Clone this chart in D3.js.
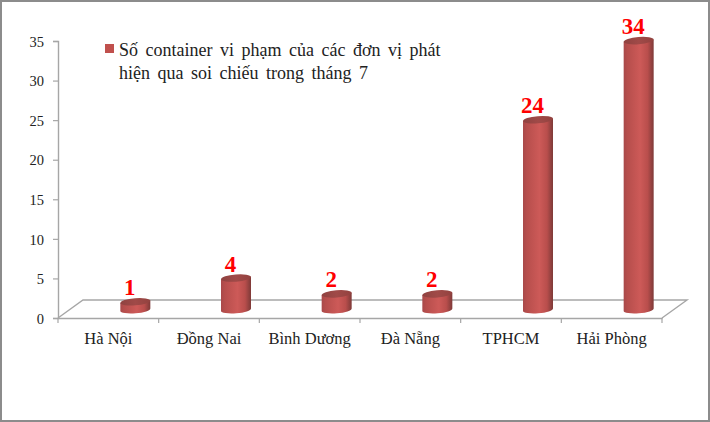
<!DOCTYPE html>
<html><head><meta charset="utf-8">
<script src="https://cdn.jsdelivr.net/npm/d3@7/dist/d3.min.js"></script>
<style>html,body{margin:0;padding:0;background:#fff}svg{display:block}text{font-family:"Liberation Serif",serif}</style>
</head><body><div id="c"></div>
<script>
const categories = ["Hà Nội","Đồng Nai","Bình Dương","Đà Nẵng","TPHCM","Hải Phòng"];
const values = [1,4,2,2,24,34];
const yTicks = [0,5,10,15,20,25,30,35];
const legendLines = ["Số container vi phạm của các đơn vị phát","hiện qua soi chiếu trong tháng 7"];

const W=710,H=422;
const svg=d3.select("#c").append("svg").attr("width",W).attr("height",H);
const defs=svg.append("defs");
const g=defs.append("linearGradient").attr("id","body").attr("x1",0).attr("x2",1).attr("y1",0).attr("y2",0);
[[0,"#a8494a"],[0.12,"#b64e4c"],[0.55,"#cd5a58"],[0.8,"#b94e4c"],[0.95,"#8c3f3d"],[1,"#7f3a38"]].forEach(d=>g.append("stop").attr("offset",d[0]).attr("stop-color",d[1]));
const gt=defs.append("linearGradient").attr("id","top").attr("x1",0).attr("x2",1).attr("y1",0).attr("y2",0);
[[0,"#8f4240"],[0.5,"#a04a48"],[1,"#93423f"]].forEach(d=>gt.append("stop").attr("offset",d[0]).attr("stop-color",d[1]));

svg.append("rect").attr("x",1).attr("y",1).attr("width",W-2).attr("height",H-2).attr("fill","#fff").attr("stroke","#8c8c8c").attr("stroke-width",2);

const x=d3.scaleBand().domain(categories).range([58,662]);
const y=d3.scaleLinear().domain([0,35]).range([318,41]);
const dx=25,dy=-18,axisCol="#a6a6a6";

const floor=svg.append("g").attr("fill","none").attr("stroke",axisCol).attr("stroke-width",1.4);
floor.append("path").attr("d",d3.line()([[x.range()[0],y(0)],[x.range()[0]+dx,y(0)+dy],[x.range()[1]+dx,y(0)+dy],[x.range()[1],y(0)]]));

const ax=svg.append("g").attr("transform",`translate(58,0)`).call(d3.axisLeft(y).tickValues(yTicks).tickSize(5).tickPadding(9));
ax.select(".domain").attr("stroke",axisCol).attr("stroke-width",1.4);
ax.selectAll(".tick line").attr("stroke",axisCol).attr("stroke-width",1.2);
ax.selectAll("text").attr("font-size",14.5).attr("fill","#222").attr("font-family","Liberation Serif").attr("dy","0.36em");

const bx=svg.append("g").attr("transform",`translate(0,${y(0)})`).call(d3.axisBottom(x).tickSize(0).tickPadding(14));
bx.select(".domain").attr("stroke",axisCol).attr("stroke-width",1.6);
bx.selectAll("text").attr("font-size",16.5).attr("fill","#222").attr("font-family","Liberation Serif");
bx.selectAll(".edge").data(d3.range(7)).enter().append("line").attr("class","edge")
  .attr("x1",i=>58+i*x.step()).attr("x2",i=>58+i*x.step()).attr("y1",0).attr("y2",5).attr("stroke",axisCol).attr("stroke-width",1.2);

const rx=15,ry=3.6,baseOffset=-8.3,tilt=-4.6,barShift=27,labelShift=-5.5;
const lift=rx*Math.sin(-tilt*Math.PI/180);
const bars=svg.append("g").selectAll("g").data(categories.map((c,i)=>({c,v:values[i]}))).enter().append("g")
  .attr("transform",d=>`translate(${x(d.c)+x.bandwidth()/2+barShift},0)`);
bars.append("path").attr("fill","url(#body)").attr("d",d=>{
  const b=y(0)+baseOffset,t=y(d.v)+baseOffset;
  return `M${-rx},${t+lift}L${-rx},${b+lift}A${rx},${ry} ${tilt} 0 0 ${rx},${b-lift}L${rx},${t-lift}Z`;
});
bars.append("ellipse").attr("transform",d=>`translate(0,${y(d.v)+baseOffset}) rotate(${tilt})`).attr("rx",rx).attr("ry",ry).attr("fill","url(#top)");
bars.append("text").attr("text-anchor","middle").attr("x",labelShift).attr("y",d=>y(d.v)+baseOffset-6.5)
  .attr("font-size",23).attr("font-weight","bold").attr("fill","#ff0000").text(d=>d.v);

svg.append("rect").attr("x",105).attr("y",44).attr("width",9).attr("height",9).attr("fill","#c0504d");
const lg=svg.append("g").attr("font-size",18).attr("fill","#222").style("word-spacing","3px");
legendLines.forEach((t,i)=>lg.append("text").attr("x",119).attr("y",55.5+i*23).text(t));
</script></body></html>
